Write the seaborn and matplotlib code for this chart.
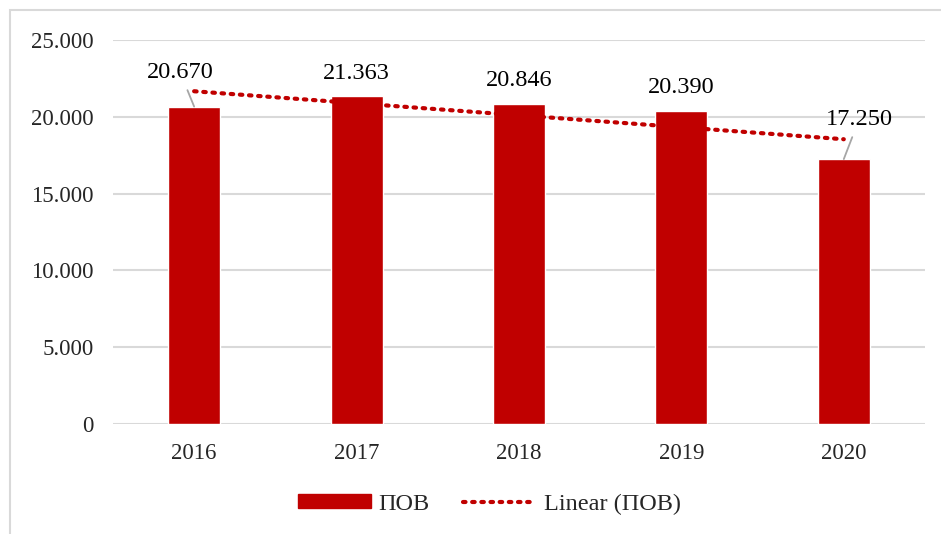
import matplotlib
matplotlib.use("Agg")
import matplotlib.pyplot as plt
import seaborn as sns
import numpy as np
import pandas as pd
from matplotlib.patches import Patch, Rectangle
from matplotlib.lines import Line2D

years = ["2016", "2017", "2018", "2019", "2020"]
values = [20670, 21363, 20846, 20390, 17250]
value_labels = ["20.670", "21.363", "20.846", "20.390", "17.250"]
y_ticks = [0, 5000, 10000, 15000, 20000, 25000]
y_tick_labels = ["0", "5.000", "10.000", "15.000", "20.000", "25.000"]
series_name = "ПОВ"

sns.set_theme(style="white")
plt.rcParams['font.family'] = ['Liberation Serif', 'DejaVu Serif']

RED = "#C00000"
GRID = "#D9D9D9"

fig = plt.figure(figsize=(9.41, 5.34), dpi=100)
ax = fig.add_axes([0.120, 0.206, 0.863, 0.719])

df = pd.DataFrame({"year": years, "value": values})
sns.barplot(data=df, x="year", y="value", color=RED, width=0.32,
            saturation=1, ax=ax, zorder=3)

# linear trend
xs = np.arange(len(values))
slope, intercept = np.polyfit(xs, values, 1)
trend = slope * xs + intercept
ax.plot(xs, trend, color=RED, linestyle=(0, (0.6, 1.6)), linewidth=3,
        dash_capstyle="round", zorder=4)

ax.set_ylim(0, 25000)
ax.set_xlim(-0.5, len(years) - 0.5)
ax.set_yticks(y_ticks)
ax.set_yticklabels(y_tick_labels, fontsize=16.5)
ax.tick_params(axis="x", labelsize=16.5, length=0, pad=14)
ax.tick_params(axis="y", length=0, pad=14)
ax.set_xlabel("")
ax.set_ylabel("")
ax.yaxis.grid(True, color=GRID, linewidth=1.5, zorder=0)
ax.set_axisbelow(True)
for s in ax.spines.values():
    s.set_visible(False)

# data labels (offsets in points, text centred)
offsets = [(-10, 24.5), (0, 16), (0, 17), (0, 17), (11, 28.5)]
for i, (v, lab, off) in enumerate(zip(values, value_labels, offsets)):
    leader = i in (0, 4)
    ax.annotate(lab, xy=(i, v), xytext=off, textcoords="offset points",
                ha="center", va="center", fontsize=17.5, color="#000000",
                zorder=6,
                arrowprops=dict(arrowstyle="-", color="#A6A6A6", lw=1.3,
                                shrinkA=3, shrinkB=0) if leader else None)

# legend
handles = [Patch(facecolor=RED, edgecolor=RED, label=series_name),
           Line2D([0], [0], color=RED, linestyle=(0, (0.6, 1.6)), linewidth=3,
                  dash_capstyle="round", label=f"Linear ({series_name})")]
fig.legend(handles=handles, loc="center", bbox_to_anchor=(0.52, 0.056),
           ncol=2, frameon=False, fontsize=17.5, handlelength=3.0,
           handleheight=0.5, handletextpad=0.3, columnspacing=1.4)

# chart-area border
fig.patches.append(Rectangle((10 / 941, -0.1), 1.2, 1.1 - 10 / 534,
                             transform=fig.transFigure, fill=False,
                             edgecolor=GRID, linewidth=1.5))

fig.savefig("out.png", dpi=100, facecolor="white")
